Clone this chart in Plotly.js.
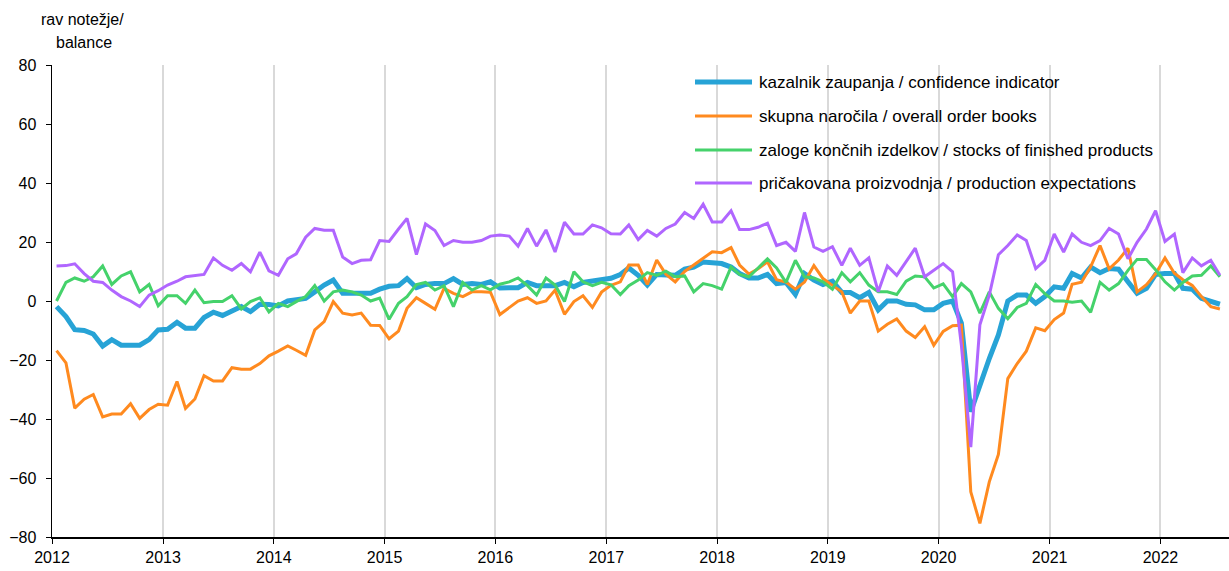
<!DOCTYPE html>
<html>
<head>
<meta charset="utf-8">
<script src="https://cdn.plot.ly/plotly-3.0.1.min.js"></script>
<style>html,body{margin:0;padding:0;background:#fff;}#chart{width:1229px;height:571px;}</style>
</head>
<body>
<div id="chart"></div>
<script>
// Monthly data, January 2012 – July 2022
const startYear = 2012;
const nMonths = 127;
const months = [];
for (let i = 0; i < nMonths; i++) {
  const y = startYear + Math.floor(i / 12);
  const m = (i % 12) + 1;
  months.push(y + '-' + String(m).padStart(2, '0') + '-16');
}
const yearTicks = ['2012','2013','2014','2015','2016','2017','2018','2019','2020','2021','2022'];

const seriesNames = [
  'kazalnik zaupanja / confidence indicator',
  'skupna naročila / overall order books',
  'zaloge končnih izdelkov / stocks of finished products',
  'pričakovana proizvodnja / production expectations'
];

const confidence = [
  -1.9,-5.3,-9.7,-10,-11.2,-15.3,-13.1,-15,-15,-15,-13.1,-9.8,
  -9.6,-7.2,-9.2,-9.2,-5.6,-3.8,-4.9,-3.6,-1.9,-3.6,-1.1,-1.2,
  -1.7,0,0.3,0.9,3.1,5.4,7.1,2.6,2.6,2.6,2.6,4,
  5,5.2,7.6,4.5,5.6,5.9,5.9,7.6,5.6,5.9,5.6,6.5,
  4.4,4.5,4.5,6.3,5.2,5.2,5.2,6.3,4.8,6.3,6.7,7.1,
  7.7,9,11.2,8.7,5.4,9,9,8.7,10.8,11.5,13.2,13,
  12.7,11.5,9.3,7.8,7.8,9,5.9,6.3,2.2,9.3,7.1,5.6,
  6.7,2.9,2.9,1.1,2.9,-3,0,0,-1.1,-1.3,-3,-3,
  -0.8,0,-7.5,-37.5,-28,-19.5,-11.5,0,2,2,-0.8,1.5,
  4.8,4.3,9.3,7.8,11.5,9.6,11,10.8,6.5,2.6,4.3,9,
  9.3,9.3,4.3,4,0.9,0,-1.1
];

const orderBooks = [
  -16.8,-21,-36.3,-33.3,-31.7,-39.3,-38.3,-38.3,-34.8,-39.8,-36.8,-35,
  -35.3,-27.3,-36.4,-33.2,-25.3,-27.1,-27.1,-22.6,-23.1,-23.1,-21.2,-18.6,
  -17,-15.2,-16.7,-18.4,-9.8,-7,-0.2,-4.1,-4.7,-4.1,-8.2,-8.3,
  -12.8,-10.2,-2.5,1.1,-0.8,-2.8,4.3,2.6,1.5,3.1,3.1,3,
  -4.6,-2.2,0,1.1,-0.8,0,3.7,-4.5,-0.2,1.8,-2.2,3,
  5.3,6.5,12.2,12.2,5.6,13.9,9.1,6.5,10,12.2,14.4,16.7,
  16.4,18.1,12.2,9.1,10.9,13.3,7.2,6.4,4,6.4,12,7.6,
  5.3,3.1,-4.1,0,0,-10.2,-7.9,-6.1,-10.2,-12.4,-8.7,-15,
  -10.3,-8.4,-8.2,-64.7,-75.4,-61.3,-52,-26.3,-21.2,-17,-9.1,-10.1,
  -6.3,-4.1,5.7,6.4,11.6,18.8,10.9,13.9,17.9,3.1,5.5,9.2,
  14.6,9.4,7.2,5.3,1.5,-1.9,-2.7
];

const stocks = [
  0,6.3,7.8,6.7,8.2,11.9,5.6,8.5,9.9,3.1,5.6,-1.6,
  1.8,1.8,-0.8,3.7,-0.6,-0.2,-0.2,1.8,-2.7,-0.2,1.1,-3.7,
  -0.8,-1.9,-0.2,1.5,5.2,0,3.1,3.7,3.1,2,0,1,
  -6.2,-0.8,1.5,5.6,6.3,3.7,5.2,-1.9,6.3,3.7,5.2,3.8,
  5.7,6.5,7.8,5.2,2,7.8,5.4,-0.2,9.9,6.5,5.2,6.3,
  5.5,2.2,5.2,7.1,9.6,8.7,10.1,8.2,8.5,3.1,5.9,5.2,
  4,11.5,9,8.2,11.2,14.3,11.2,6.3,13.8,8.2,7.8,6.5,
  4,9.6,6.5,9.6,5.4,3.1,3.1,2.2,6.7,8.5,8.2,4.4,
  5.8,1.5,5.9,3.1,-4.1,3.1,-2.5,-6,-2.2,-0.8,5.6,2.5,
  0,0,-0.4,0,-3.8,6.3,3.7,5.9,10.4,14.1,14.1,10.6,
  6.5,3.7,6.3,8.5,8.7,11.9,8.2
];

const expectations = [
  11.9,12,12.6,9.3,6.7,6.3,3.7,1.5,0,-1.9,2,3.5,
  5.4,6.7,8.2,8.5,9,14.6,12.1,10.4,12.7,9.9,16.6,10.2,
  8.7,14.3,16,21.6,24.6,24,24,14.9,12.7,13.8,14,20.5,
  20.2,24.4,28,15.7,26.1,23.9,18.8,20.5,19.9,19.9,20.5,22,
  22.4,22,18.6,24.6,18.6,24.1,16.6,26.7,22.7,22.7,25.8,24.8,
  22.8,22.7,25.8,20.8,23.9,22,24.6,26.1,30,28,32.8,26.8,
  26.8,30.6,24.2,24.2,25,26.4,18.8,19.9,16.8,30,18.3,16.8,
  18.4,12.1,17.9,12.1,14.6,3.1,11.9,8.7,13.2,17.9,8.2,10.4,
  12.7,9.9,-15,-49.5,-8.1,2,15.7,18.8,22.4,20.5,11,13.8,
  22.7,16.6,22.7,19.9,18.8,20.5,24.6,22.7,14.3,19.9,24.4,30.6,
  20.2,22.7,9.6,14.6,11.9,13.8,8.7
];

const colors = ['#27A3D6', '#FF8A1F', '#45D26B', '#B066FF'];
const widths = [5, 3, 3, 3];
const values = [confidence, orderBooks, stocks, expectations];

const W = 1229, H = 571;
const M = {l: 52, r: 0, t: 65, b: 34};
const PW = W - M.l - M.r, PH = H - M.t - M.b;
const px = x => (x - M.l) / PW;
const py = y => (H - M.b - y) / PH;

const FONT = 'Arial, "Liberation Sans", sans-serif';

const traces = values.map((v, k) => ({
  type: 'scatter',
  mode: 'lines',
  x: months,
  y: v,
  name: seriesNames[k],
  line: {color: colors[k], width: widths[k]},
  showlegend: false,
  hoverinfo: 'x+y'
}));

const legendRows = [82, 116, 150, 183];
const shapes = [];
const annotations = [];
seriesNames.forEach((n, k) => {
  shapes.push({
    type: 'line', xref: 'paper', yref: 'paper',
    x0: px(695), x1: px(752), y0: py(legendRows[k]), y1: py(legendRows[k]),
    line: {color: colors[k], width: widths[k]}
  });
  annotations.push({
    xref: 'paper', yref: 'paper', x: px(757), y: py(legendRows[k]),
    xanchor: 'left', yanchor: 'middle', showarrow: false,
    text: n, font: {family: FONT, size: 17, color: '#000'}
  });
});
annotations.push({
  xref: 'paper', yref: 'paper', x: px(82), y: py(19),
  xanchor: 'center', yanchor: 'middle', showarrow: false,
  text: 'rav notežje/', font: {family: FONT, size: 16, color: '#000'}
});
annotations.push({
  xref: 'paper', yref: 'paper', x: px(84), y: py(42),
  xanchor: 'center', yanchor: 'middle', showarrow: false,
  text: 'balance', font: {family: FONT, size: 16, color: '#000'}
});

const layout = {
  width: W, height: H,
  margin: M,
  paper_bgcolor: '#fff', plot_bgcolor: '#fff',
  font: {family: FONT, size: 16, color: '#000'},
  xaxis: {
    type: 'date',
    range: ['2012-01-01', '2022-08-15'],
    tickvals: yearTicks.map(y => y + '-01-01'),
    ticktext: yearTicks,
    showgrid: true, gridcolor: '#d9d9d9', gridwidth: 2,
    showline: true, linecolor: '#000', linewidth: 1.5,
    ticks: 'outside', ticklen: 5, tickcolor: '#000',
    zeroline: false,
    tickfont: {family: FONT, size: 16, color: '#000'}
  },
  yaxis: {
    range: [-80, 80],
    tickvals: [-80,-60,-40,-20,0,20,40,60,80],
    showgrid: false, zeroline: false,
    showline: true, linecolor: '#000', linewidth: 1.5,
    ticks: 'outside', ticklen: 5, tickcolor: '#000',
    ticklabelstandoff: 6,
    tickfont: {family: FONT, size: 16, color: '#000'}
  },
  shapes: shapes,
  annotations: annotations,
  showlegend: false
};

Plotly.newPlot('chart', traces, layout, {displayModeBar: false, staticPlot: true});
</script>
</body>
</html>
